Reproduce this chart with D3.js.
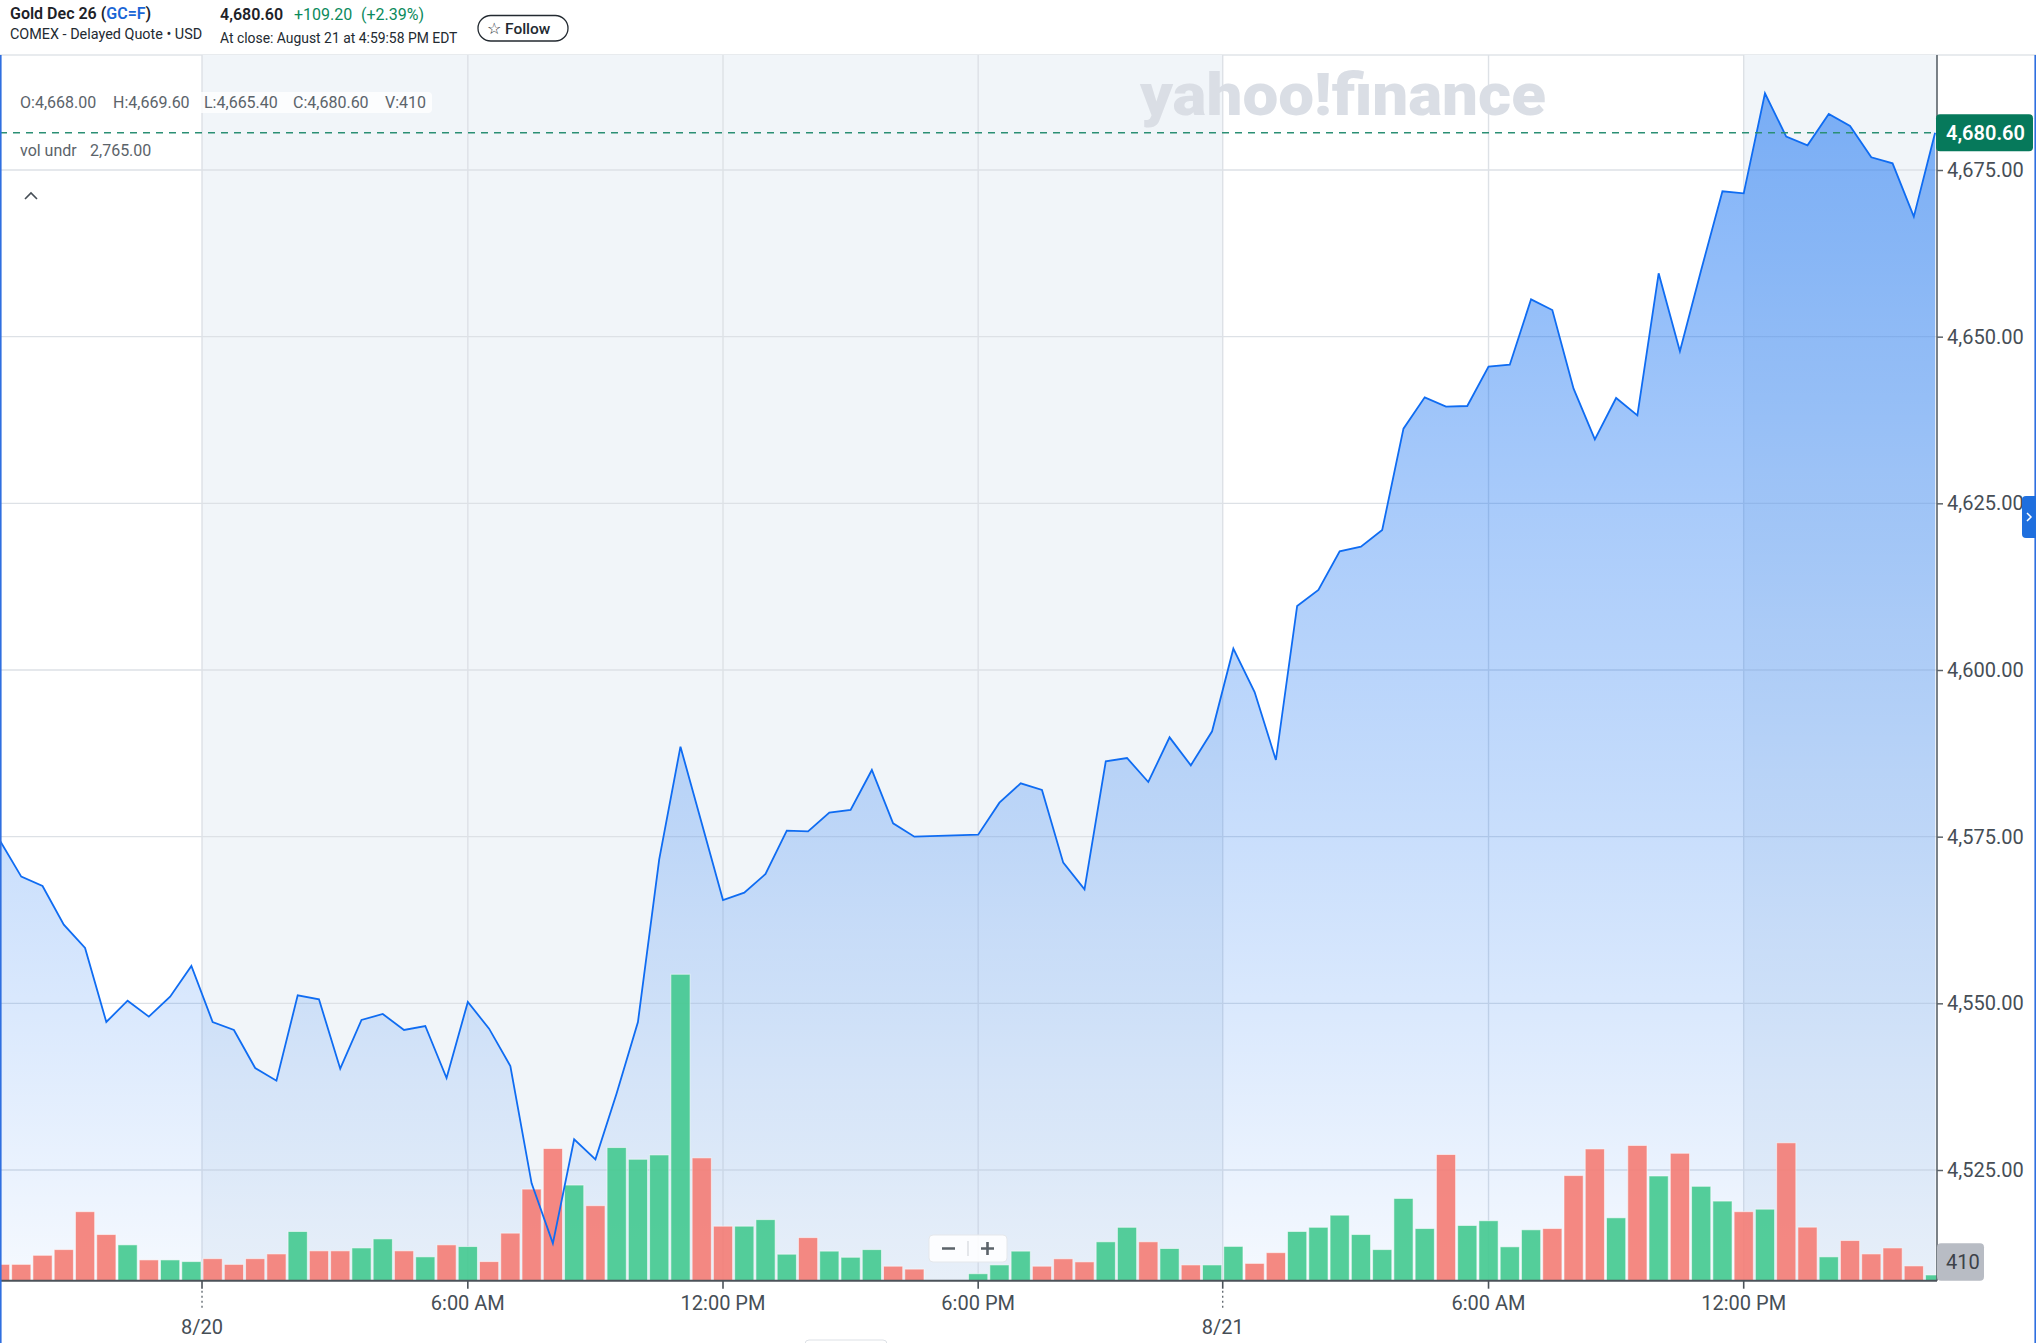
<!DOCTYPE html>
<html>
<head>
<meta charset="utf-8">
<script src="https://cdn.jsdelivr.net/npm/d3@7"></script>
<style>
  body { margin: 0; background: #fff; }
  text { font-family: Roboto, "Noto Sans", sans-serif; }
</style>
</head>
<body>
<div id="chart"></div>
<script>
// Gold Dec 26 (GC=F) - 30 minute bars, index 0 = first bar on screen
// 44 and 45 fall in the daily 5-6 PM break (no bar)
var closes = [
  4574.4, 4569.0, 4567.6, 4561.8, 4558.3, 4547.2, 4550.4, 4548.0, 4551.0, 4555.6,
  4547.2, 4546.0, 4540.3, 4538.4, 4551.2, 4550.6, 4540.2, 4547.5, 4548.4, 4546.0,
  4546.6, 4538.8, 4550.2, 4546.2, 4540.6, 4523.0, 4514.0, 4529.6, 4526.6, 4536.5,
  4547.2, 4571.6, 4588.5, 4577.0, 4565.5, 4566.6, 4569.4, 4575.9, 4575.8, 4578.6,
  4579.0, 4585.0, 4577.0, 4575.0, null, null, 4575.3, 4580.1, 4583.0, 4582.0,
  4571.1, 4567.1, 4586.3, 4586.8, 4583.2, 4589.9, 4585.7, 4590.8, 4603.2, 4596.7,
  4586.5, 4609.6, 4612.0, 4617.8, 4618.5, 4621.0, 4636.2, 4640.9, 4639.5, 4639.6,
  4645.5, 4645.8, 4655.6, 4654.0, 4642.2, 4634.6, 4640.8, 4638.2, 4659.5, 4647.8,
  4660.0, 4671.8, 4671.5, 4686.5, 4680.0, 4678.7, 4683.4, 4681.6, 4676.9, 4676.0,
  4668.0, 4680.6
];

var volumes = [
  1170, 1170, 1820, 2230, 4950, 3310, 2570, 1490, 1490, 1370,
  1580, 1170, 1580, 1920, 3530, 2140, 2140, 2350, 3000, 2140,
  1710, 2570, 2450, 1370, 3410, 6570, 9480, 6860, 5380, 9550,
  8710, 9020, 21980, 8810, 3910, 3910, 4380, 1900, 3090, 2120,
  1680, 2230, 1040, 830, null, null, 500, 1130, 2120, 1040,
  1570, 1350, 2790, 3830, 2790, 2310, 1130, 1130, 2460, 1240,
  2010, 3530, 3830, 4700, 3310, 2230, 5900, 3740, 9050, 3960,
  4300, 2430, 3650, 3740, 7540, 9450, 4510, 9700, 7510, 9140,
  6770, 5710, 4950, 5130, 9890, 3840, 1710, 2880, 1920, 2350,
  1060, 410
];

// x axis ticks (bar index) and their labels
var tickIdx = [9.5, 22, 34, 46, 57.5, 70, 82];
var tickLabels = ["8/20", "6:00 AM", "12:00 PM", "6:00 PM", "8/21", "6:00 AM", "12:00 PM"];
var tickIsDate = [true, false, false, false, true, false, false];

// shaded (greyed) session ranges, in bar index
var shadeFrom = [9.5, 82];
var shadeTo = [57.5, 91.09];

// price ticks
var priceTicks = [4525, 4550, 4575, 4600, 4625, 4650, 4675];
var lastPrice = 4680.60;
var lastVolume = 410;

//svg size
var width = 2036;
var height = 1343;

var plotLeft = 0;
var plotRight = 1937;
var plotTop = 55;
var plotBottom = 1280.7;

var svg = d3.select("#chart").append("svg")
    .attr("width", width)
    .attr("height", height);

var defs = svg.append("defs");

defs.append("clipPath").attr("id", "plotClip")
    .append("rect")
    .attr("x", plotLeft)
    .attr("y", plotTop)
    .attr("width", plotRight - plotLeft)
    .attr("height", plotBottom - plotTop);

//scales
var xScale = d3.scaleLinear()
    .domain([0, 91.09])
    .range([plotLeft, plotRight]);

var yScale = d3.scaleLinear()
    .domain([4525, 4675])
    .range([1170, 170]);

var volScale = d3.scaleLinear()
    .domain([0, d3.max(volumes)])
    .range([plotBottom, plotBottom - 0.25 * (plotBottom - plotTop)]);

// bars as objects, skipping the break
var bars = [];
closes.forEach(function(c, i) {
    if (c == null) return;
    bars.push({ i: i, close: c, vol: volumes[i] });
});
// up/down colour from close vs previous close (first bar has no previous -> down)
bars.forEach(function(b, k) {
    b.up = k > 0 && b.close >= bars[k - 1].close;
});

var topPrice = d3.max(bars, function(d) { return d.close; });

var grad = defs.append("linearGradient")
    .attr("id", "mountain")
    .attr("gradientUnits", "userSpaceOnUse")
    .attr("x1", 0).attr("x2", 0)
    .attr("y1", yScale(topPrice))
    .attr("y2", plotBottom);
grad.append("stop").attr("offset", 0).attr("stop-color", "rgb(0,101,241)").attr("stop-opacity", 0.5);
grad.append("stop").attr("offset", 1).attr("stop-color", "rgb(0,101,241)").attr("stop-opacity", 0.04);

// ---------- header ----------
var header = svg.append("g");

var title = header.append("text")
    .attr("x", 10).attr("y", 19)
    .style("font-size", "16px")
    .style("font-weight", 600)
    .style("fill", "#1d2228");
title.append("tspan").text("Gold Dec 26 (");
title.append("tspan").style("fill", "#1a66d6").text("GC=F");
title.append("tspan").text(")");

header.append("text")
    .attr("x", 10).attr("y", 39)
    .style("font-size", "14.4px")
    .style("fill", "#232a31")
    .text("COMEX - Delayed Quote \u2022 USD");

header.append("text")
    .attr("x", 220).attr("y", 20)
    .style("font-size", "16px")
    .style("font-weight", 600)
    .style("fill", "#1d2228")
    .text(d3.format(",.2f")(lastPrice));

header.append("text")
    .attr("x", 294).attr("y", 20)
    .style("font-size", "16px")
    .style("fill", "#0b8a5c")
    .text("+109.20");

header.append("text")
    .attr("x", 361).attr("y", 20)
    .style("font-size", "16px")
    .style("fill", "#0b8a5c")
    .text("(+2.39%)");

header.append("text")
    .attr("x", 220).attr("y", 43)
    .style("font-size", "13.9px")
    .style("fill", "#232a31")
    .text("At close: August 21 at 4:59:58 PM EDT");

header.append("rect")
    .attr("x", 478).attr("y", 15.5)
    .attr("width", 90).attr("height", 25.5)
    .attr("rx", 12.75)
    .style("fill", "#fff")
    .style("stroke", "#232a31")
    .style("stroke-width", 1.3);

header.append("text")
    .attr("x", 487).attr("y", 33.5)
    .style("font-size", "16px")
    .style("fill", "#232a31")
    .text("\u2606");

header.append("text")
    .attr("x", 505).attr("y", 33.5)
    .style("font-size", "15.5px")
    .style("font-weight", 500)
    .style("fill", "#232a31")
    .text("Follow");

svg.append("line")
    .attr("x1", 0).attr("x2", width)
    .attr("y1", plotTop).attr("y2", plotTop)
    .style("stroke", "#e0e4e9")
    .style("stroke-width", 1.5);

// ---------- plot ----------
var plot = svg.append("g").attr("clip-path", "url(#plotClip)");

// grey session shading
plot.selectAll(".shade")
    .data(shadeFrom)
    .enter()
    .append("rect")
    .attr("class", "shade")
    .attr("x", function(d) { return xScale(d); })
    .attr("width", function(d, i) { return xScale(shadeTo[i]) - xScale(d); })
    .attr("y", plotTop)
    .attr("height", plotBottom - plotTop)
    .style("fill", "#f1f5f9");

// grid
plot.selectAll(".hgrid")
    .data(priceTicks)
    .enter()
    .append("line")
    .attr("x1", plotLeft).attr("x2", plotRight)
    .attr("y1", function(d) { return yScale(d); })
    .attr("y2", function(d) { return yScale(d); })
    .style("stroke", "#dde1e6")
    .style("stroke-width", 1.4);

plot.selectAll(".vgrid")
    .data(tickIdx)
    .enter()
    .append("line")
    .attr("x1", function(d) { return xScale(d); })
    .attr("x2", function(d) { return xScale(d); })
    .attr("y1", plotTop).attr("y2", plotBottom)
    .style("stroke", "#dde1e6")
    .style("stroke-width", 1.4);

// watermark
plot.append("text")
    .attr("x", 1140).attr("y", 115)
    .attr("textLength", 406)
    .attr("lengthAdjust", "spacingAndGlyphs")
    .style("font-size", "60px")
    .style("font-weight", 900)
    .style("fill", "#dadee5")
    .text("yahoo!finance");

// mountain fill
var area = d3.area()
    .x(function(d) { return xScale(d.i); })
    .y0(plotBottom)
    .y1(function(d) { return yScale(d.close); });

plot.append("path")
    .datum(bars)
    .attr("d", area)
    .style("fill", "url(#mountain)");

// volume underlay
var barW = 19.2;
plot.selectAll(".vol")
    .data(bars)
    .enter()
    .append("rect")
    .attr("class", "vol")
    .attr("x", function(d) { return xScale(d.i) - barW / 2; })
    .attr("width", barW)
    .attr("y", function(d) { return volScale(d.vol); })
    .attr("height", function(d) { return plotBottom - volScale(d.vol); })
    .style("fill", function(d) { return d.up ? "#43c98f" : "#f47c74"; })
    .style("fill-opacity", 0.9)
    .style("stroke", "rgba(255,255,255,0.55)")
    .style("stroke-width", 1);

// price line
var line = d3.line()
    .x(function(d) { return xScale(d.i); })
    .y(function(d) { return yScale(d.close); });

plot.append("path")
    .datum(bars)
    .attr("d", line)
    .style("fill", "none")
    .style("stroke", "#0f6cf2")
    .style("stroke-width", 1.8)
    .style("stroke-linejoin", "miter");

// last price dashed line
plot.append("line")
    .attr("x1", plotLeft).attr("x2", plotRight)
    .attr("y1", yScale(lastPrice)).attr("y2", yScale(lastPrice))
    .style("stroke", "#2b8f74")
    .style("stroke-width", 1.5)
    .style("stroke-dasharray", "7,6");

// OHLC legend
svg.append("rect")
    .attr("x", 14).attr("y", 92)
    .attr("width", 418).attr("height", 21)
    .attr("rx", 4)
    .style("fill", "rgba(255,255,255,0.8)");

var legendItems = ["O:4,668.00", "H:4,669.60", "L:4,665.40", "C:4,680.60", "V:" + lastVolume];
var legendX = [20, 113, 204, 293, 385];
svg.selectAll(".lg")
    .data(legendItems)
    .enter()
    .append("text")
    .attr("x", function(d, i) { return legendX[i]; })
    .attr("y", 108)
    .style("font-size", "16px")
    .style("fill", "#5b636a")
    .text(function(d) { return d; });

svg.append("text")
    .attr("x", 20).attr("y", 156)
    .style("font-size", "16px")
    .style("fill", "#5b636a")
    .text("vol undr");

svg.append("text")
    .attr("x", 90).attr("y", 156)
    .style("font-size", "16px")
    .style("fill", "#5b636a")
    .text("2,765.00");

svg.append("path")
    .attr("d", "M25,199 L31,193 L37,199")
    .style("fill", "none")
    .style("stroke", "#464e56")
    .style("stroke-width", 1.6);

// ---------- right price axis ----------
var yAxis = d3.axisRight(yScale)
    .tickValues(priceTicks)
    .tickSize(6)
    .tickPadding(4)
    .tickFormat(d3.format(",.2f"));

var yAxisG = svg.append("g")
    .attr("transform", "translate(" + plotRight + ",0)")
    .call(yAxis);
yAxisG.select(".domain").remove();
yAxisG.selectAll("line").style("stroke", "#5b636a").style("stroke-width", 1.5);
yAxisG.selectAll("text")
    .style("font-size", "20px")
    .style("font-family", "Roboto, sans-serif")
    .style("fill", "#464e56");

svg.append("line")
    .attr("x1", plotRight).attr("x2", plotRight)
    .attr("y1", plotTop).attr("y2", plotBottom)
    .style("stroke", "#5b636a")
    .style("stroke-width", 1.6);

// last price tag
svg.append("rect")
    .attr("x", plotRight - 1).attr("y", yScale(lastPrice) - 18.5)
    .attr("width", 97).attr("height", 37)
    .attr("rx", 4)
    .style("fill", "#06795b");
svg.append("text")
    .attr("x", plotRight + 9).attr("y", yScale(lastPrice) + 7)
    .style("font-size", "20px")
    .style("font-weight", 600)
    .style("fill", "#fff")
    .text(d3.format(",.2f")(lastPrice));

// last volume tag
svg.append("rect")
    .attr("x", plotRight).attr("y", plotBottom - 37.5)
    .attr("width", 47).attr("height", 37.5)
    .attr("rx", 4)
    .style("fill", "#b8bcc4");
svg.append("text")
    .attr("x", plotRight + 9).attr("y", plotBottom - 11.5)
    .style("font-size", "20px")
    .style("fill", "#3d4249")
    .text(lastVolume);

// ---------- bottom time axis ----------
svg.append("line")
    .attr("x1", plotLeft).attr("x2", plotRight)
    .attr("y1", plotBottom).attr("y2", plotBottom)
    .style("stroke", "#4b5259")
    .style("stroke-width", 2);

var xt = svg.append("g");
xt.selectAll(".xtick")
    .data(tickIdx)
    .enter()
    .append("line")
    .attr("x1", function(d) { return xScale(d); })
    .attr("x2", function(d) { return xScale(d); })
    .attr("y1", plotBottom).attr("y2", plotBottom + 8)
    .style("stroke", "#4b5259")
    .style("stroke-width", 1.6);

xt.selectAll(".xdot")
    .data(tickIdx.filter(function(d, i) { return tickIsDate[i]; }))
    .enter()
    .append("line")
    .attr("x1", function(d) { return xScale(d); })
    .attr("x2", function(d) { return xScale(d); })
    .attr("y1", plotBottom + 10).attr("y2", plotBottom + 28)
    .style("stroke", "#5b636a")
    .style("stroke-width", 1.3)
    .style("stroke-dasharray", "2,3");

xt.selectAll(".xlabel")
    .data(tickIdx)
    .enter()
    .append("text")
    .attr("x", function(d) { return xScale(d); })
    .attr("y", function(d, i) { return tickIsDate[i] ? 1334 : 1310; })
    .attr("text-anchor", "middle")
    .style("font-size", "20px")
    .style("fill", "#464e56")
    .text(function(d, i) { return tickLabels[i]; });

// zoom control
svg.append("rect")
    .attr("x", 929).attr("y", 1235)
    .attr("width", 78).attr("height", 27)
    .attr("rx", 4)
    .style("fill", "rgba(255,255,255,0.88)")
    .style("stroke", "#e4e7eb");
svg.append("line")
    .attr("x1", 968).attr("x2", 968)
    .attr("y1", 1241).attr("y2", 1256)
    .style("stroke", "#d4d8dd")
    .style("stroke-width", 1.2);
svg.append("path")
    .attr("d", "M942,1248.5 H955 M981,1248.5 H994 M987.5,1242 V1255")
    .style("stroke", "#5b636a")
    .style("stroke-width", 2.6);

// bits of page chrome
svg.append("rect")
    .attr("x", 805).attr("y", 1340)
    .attr("width", 82).attr("height", 12)
    .attr("rx", 4)
    .style("fill", "#fff")
    .style("stroke", "#dde1e6");

svg.append("line")
    .attr("x1", 0.8).attr("x2", 0.8)
    .attr("y1", plotTop).attr("y2", height)
    .style("stroke", "#2f6fe0")
    .style("stroke-width", 1.6);
svg.append("line")
    .attr("x1", 2035.2).attr("x2", 2035.2)
    .attr("y1", plotTop).attr("y2", height)
    .style("stroke", "#2f6fe0")
    .style("stroke-width", 1.6);

svg.append("rect")
    .attr("x", 2022).attr("y", 496)
    .attr("width", 20).attr("height", 42)
    .attr("rx", 4)
    .style("fill", "#1f6fde");
svg.append("path")
    .attr("d", "M2027,513 L2031,517 L2027,521")
    .style("fill", "none")
    .style("stroke", "#fff")
    .style("stroke-width", 1.5);
</script>
</body>
</html>
